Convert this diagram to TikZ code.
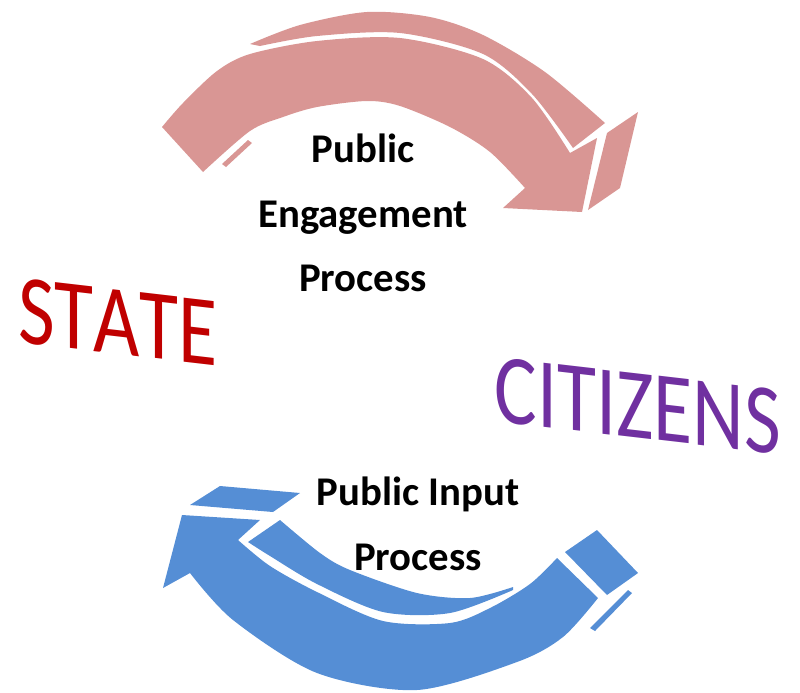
\documentclass[tikz,border=0pt]{standalone}
\usepackage{fontspec}
\setmainfont{Carlito}
\newfontfamily\wordfont{Carlito}[Kerning=Off]
\definecolor{engpink}{HTML}{D99694}
\definecolor{inpblue}{HTML}{558ED5}
\definecolor{statered}{HTML}{C00000}
\definecolor{citpurple}{HTML}{7030A0}

\begin{document}
\begin{tikzpicture}[x=0.025cm, y=-0.025cm,
    proclabel/.style={align=center, font=\bfseries\fontsize{29}{46}\selectfont},
    bigword/.style={font=\wordfont\fontsize{71}{80}\selectfont, yslant=-0.116, xscale=0.8, transform shape}]
  \useasboundingbox (0,0) rectangle (800,692);
  \begin{scope}[engpink]
    \fill plot[smooth] coordinates {(162,127) (183,103) (217,71) (250,54) (317,41) (400,38) (483,59) (532,98) (570,153)}
      -- (597,138) -- (582,212) -- (503,208) -- (525,188)
      -- plot[smooth] coordinates {(525,188) (490,152) (450,127) (400,106) (367,101) (317,107) (283,117) (250,131) (203,172)} -- cycle;
    \fill plot[smooth] coordinates {(250,44) (300,25) (367,12) (430,17) (483,35) (545,72) (605,123)}
      -- (573,148)
      -- plot[smooth] coordinates {(573,148) (532,94) (483,54) (400,33) (317,36) (260,46)} -- cycle;
    \fill (607,133) -- (638,112) -- (620,188) -- (588,210) -- cycle;
    \fill (222,164) -- (248,140) -- (252,143) -- (226,167) -- cycle;
  \end{scope}
  \begin{scope}[inpblue]
    \fill plot[smooth] coordinates {(598,598) (563,637) (517,662) (417,690) (317,673) (233,620) (190,573)}
      -- (163,588) -- (182,515) -- (260,520) -- (238,540)
      -- plot[smooth] coordinates {(238,540) (270,566) (317,592) (383,621) (450,623) (490,608) (530,584) (557,558)} -- cycle;
    \fill plot[smooth] coordinates {(280,520) (320,553) (350,570) (417,593) (470,598) (513,587)}
      -- plot[smooth] coordinates {(513,590) (450,613) (383,612) (317,584) (270,556) (248,542)} -- cycle;
    \fill (190,505) -- (220,486) -- (300,493) -- (273,512) -- cycle;
    \fill (565,552) -- (597,530) -- (638,573) -- (607,595) -- cycle;
    \fill (590,628) -- (628,590) -- (632,593) -- (595,631) -- cycle;
  \end{scope}
  \node[proclabel] (engage) at (363,213) {Public\\Engagement\\Process};
  \node[proclabel] (input) at (418,524) {Public Input\\Process};
  \node[bigword, text=statered] (state) at (118,322) {STATE};
  \node[bigword, text=citpurple] (citizens) at (638,406) {CITIZENS};
\end{tikzpicture}
\end{document}
